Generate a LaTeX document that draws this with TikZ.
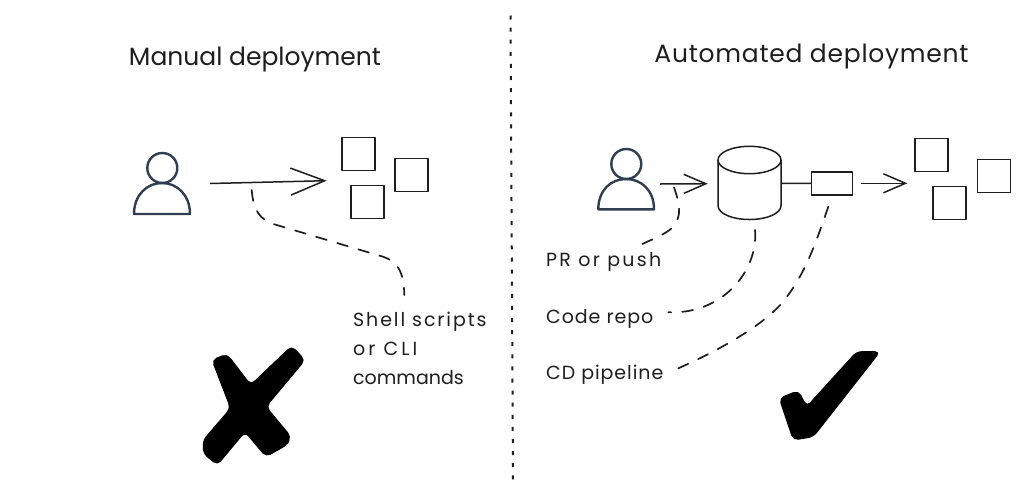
\documentclass[tikz,border=0pt]{standalone}
\usepackage{fontspec}
\setmainfont{Poppins}
\newfontfamily\wideA[LetterSpace=3]{Poppins}
\newfontfamily\wideB[LetterSpace=5]{Poppins}
\newfontfamily\wideC[LetterSpace=10]{Poppins}
\newfontfamily\wideD[LetterSpace=12]{Poppins}
\newfontfamily\wideE[LetterSpace=16]{Poppins}
\usetikzlibrary{arrows.meta}
\definecolor{ink}{HTML}{1E1E1E}
\definecolor{slate}{HTML}{2F3E50}
\tikzset{
  ink line/.style={draw=ink,line width=1.5pt,line join=round},
  sq/.style={ink line,minimum width=33pt,minimum height=33pt,inner sep=0pt,outer sep=0pt},
  pipebox/.style={ink line,minimum width=41pt,minimum height=23pt,inner sep=0pt,outer sep=0pt},
  barb/.style={ink line,-{Straight Barb[length=34pt,width=27pt,line width=1.5pt]}},
  barbs/.style={ink line,-{Straight Barb[length=22pt,width=19pt,line width=1.5pt]}},
  note/.style={ink line,line width=1.7pt,line cap=round,dash pattern=on 11pt off 11pt},
  divider/.style={draw=ink,line width=2pt,dash pattern=on 4pt off 8.1pt},
  person/.style={draw=slate,line width=2.4pt,line join=round},
  title/.style={text=ink,font=\fontsize{25}{30}\selectfont,inner sep=0pt},
  lab/.style={text=ink,font=\fontsize{19}{29}\selectfont,anchor=west,inner sep=0pt,align=left},
  blot/.style={fill=black,draw=black,line width=1pt,rounded corners=5pt},
}
\begin{document}
\begin{tikzpicture}[x=1pt,y=-1pt]
\useasboundingbox (0,0) rectangle (1024,496);
\fill[white] (0,0) rectangle (1024,496);
\coordinate (divtop) at (510.5,15.5);
\coordinate (divbot) at (513,482);
\draw[divider] (divtop) -- (divbot);

\node[title] (tman) at (255,59) {Manual deployment};
\node[title] (tauto) at (811.5,56) {\wideA Automated deployment};

% left
\draw[person] (162.3,168) circle (15);
\draw[person] (134,214) .. controls (134,195) and (147,183) .. (162,183) .. controls (177,183) and (190,195) .. (190,214) -- cycle;
\node[sq] (a1) at (358.3,154) {};
\node[sq] (a2) at (411.7,174.8) {};
\node[sq] (a3) at (367.7,201.8) {};
\coordinate (p1r) at (210,183.5);
\coordinate (p1t) at (326.7,180.7);
\draw[barb] (p1r) -- (p1t);
\node[lab] (shell) at (353,348) {{\wideC Shell scripts}\\{\wideE or CLI}\\commands};
\coordinate (n1s) at (251.7,190);
\coordinate (n1e) at (404.3,295);
\draw[note] (n1s) .. controls (253,205) and (256,216) .. (270,223) -- (383,256.7) .. controls (396,261) and (404,270) .. (n1e);

% right
\draw[person] (626.3,164) circle (15);
\draw[person] (598.3,209.3) .. controls (598.3,190) and (611,179) .. (626,179) .. controls (641,179) and (654,190) .. (654,209.3) -- cycle;
\coordinate (p2r) at (660,184);
\coordinate (cylin) at (707.7,183.7);
\draw[barbs] (p2r) -- (cylin);
% cylinder
\draw[ink line] (749.5,160) ellipse (31.5 and 13.7);
\draw[ink line] (718,160) -- (718,205.5) .. controls (718,214) and (733,219.5) .. (749.5,219.5) .. controls (766,219.5) and (781,214) .. (781,205.5) -- (781,160);
\coordinate (cylout) at (781,183.3);
\node[pipebox] (cd) at (831.8,183.4) {};
\draw[ink line] (cylout) -- (cd.west);
\coordinate (cdr) at (861,183.3);
\coordinate (cdt) at (907.3,183.3);
\draw[barbs] (cdr) -- (cdt);
\node[sq] (b1) at (931.7,155.2) {};
\node[sq] (b2) at (994,175.8) {};
\node[sq] (b3) at (949.3,203.2) {};

\node[lab] (pr) at (546,262) {\wideD PR or push};
\node[lab] (repo) at (546,318.5) {\wideB Code repo};
\node[lab] (pipe) at (546,374.5) {\wideB CD pipeline};
\coordinate (n2s) at (674,187.3);
\coordinate (n2e) at (636.7,246.7);
\draw[note] (n2s) .. controls (680,205) and (682,216) .. (673,227) .. controls (665,235) and (650,240) .. (n2e);
\coordinate (n3s) at (755,230);
\coordinate (n3e) at (668.3,312.3);
\draw[note] (n3s) .. controls (758,262) and (735,300) .. (693,310) .. controls (685,312) and (675,312.5) .. (n3e);
\coordinate (n4s) at (828.3,206.7);
\coordinate (n4e) at (678.3,368.3);
\draw[note] (n4s) .. controls (815,245) and (805,275) .. (782,303) .. controls (760,328) and (715,352) .. (n4e);

% marks
\path[blot] (212,360) -- (227,354) -- (250.7,385) -- (291.7,346) -- (305,360) -- (266,406.7) -- (291,436.7) -- (286.7,445) -- (266,456.7) -- (245,431.7) -- (217.3,465) -- (203.3,453.3) -- (203.3,440) -- (230.7,408.3) -- cycle;
\path[blot] (779.3,398.3) -- (798.3,390.7) -- (806.7,406.7) -- (856.7,351.7) -- (880,351.7) -- (813.3,436.7) -- (793.3,440) -- cycle;
\end{tikzpicture}
\end{document}
